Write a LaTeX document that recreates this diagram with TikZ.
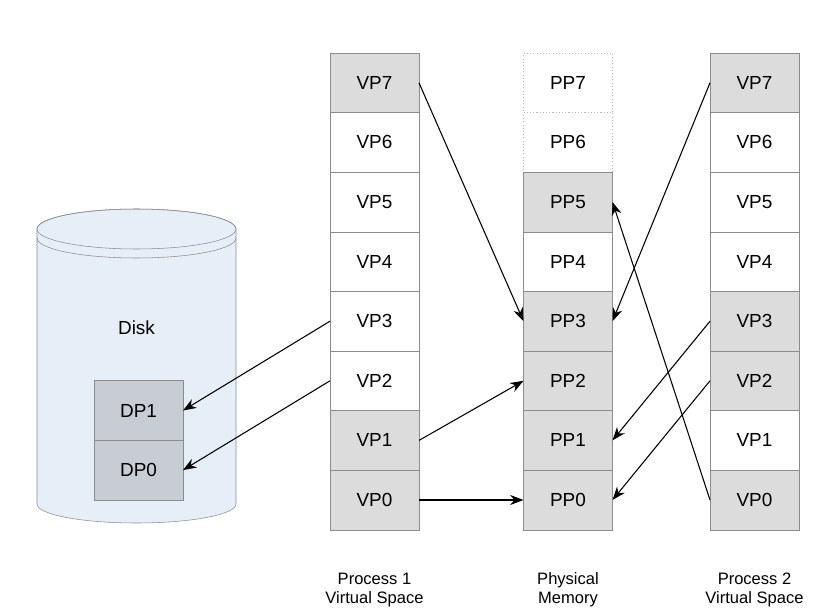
\documentclass[tikz,border=0pt]{standalone}
\usepackage{fontspec}
\setmainfont{Liberation Sans}
\usetikzlibrary{arrows.meta}
\definecolor{cellgray}{RGB}{220,220,220}
\definecolor{linegray}{RGB}{140,140,140}
\definecolor{diskblue}{RGB}{230,238,248}
\definecolor{dpgray}{RGB}{200,205,211}
\begin{document}
\begin{tikzpicture}[x=0.75pt, y=0.75pt, >={Stealth[length=10pt,width=7.5pt]}, node distance=44.7pt]
            \tikzset{page/.style = {shape=rectangle, draw=linegray, fill=white, minimum width=66.75pt, minimum height=44.7pt, inner sep=0pt, outer sep=0pt, font=\fontsize{14.2}{16}\selectfont}}
            \tikzset{used/.style = {page, fill=cellgray}}
            \tikzset{free/.style = {page, draw=linegray!60, dotted}}
            \tikzset{dpage/.style = {page, fill=dpgray}}
            \tikzset{caption/.style = {align=center, font=\fontsize{12.4}{14}\selectfont}}
            \tikzset{map/.style = {->, line width=0.8pt}}

            \useasboundingbox (0,0) rectangle (831,608);

            % disk
            \filldraw[draw=linegray, fill=diskblue] (37,379) -- (37,104) arc[start angle=180, end angle=360, x radius=99.5, y radius=19] -- (236,379) arc[start angle=0, end angle=180, x radius=99.5, y radius=20] -- cycle;
            \draw[linegray] (136.5,379) ellipse[x radius=99.5, y radius=20];
            \draw[linegray] (37,370) arc[start angle=180, end angle=360, x radius=99.5, y radius=20];
            \node (disk) at (136.5,280) {\fontsize{14.2}{16}\selectfont Disk};
            \node[dpage] (dp1) at (138.5,197.5) {DP1};
            \node[dpage, below of=dp1] (dp0) {DP0};

            % process 1
            \node[used] (avp7) at (374.5,525.2) {VP7};
            \node[page, below of=avp7] (avp6) {VP6};
            \node[page, below of=avp6] (avp5) {VP5};
            \node[page, below of=avp5] (avp4) {VP4};
            \node[page, below of=avp4] (avp3) {VP3};
            \node[page, below of=avp3] (avp2) {VP2};
            \node[used, below of=avp2] (avp1) {VP1};
            \node[used, below of=avp1] (avp0) {VP0};

            % physical memory
            \node[free] (pp7) at (568,525.2) {PP7};
            \node[free, below of=pp7] (pp6) {PP6};
            \node[used, below of=pp6] (pp5) {PP5};
            \node[page, below of=pp5] (pp4) {PP4};
            \node[used, below of=pp4] (pp3) {PP3};
            \node[used, below of=pp3] (pp2) {PP2};
            \node[used, below of=pp2] (pp1) {PP1};
            \node[used, below of=pp1] (pp0) {PP0};

            % process 2
            \node[used] (bvp7) at (754.5,525.2) {VP7};
            \node[page, below of=bvp7] (bvp6) {VP6};
            \node[page, below of=bvp6] (bvp5) {VP5};
            \node[page, below of=bvp5] (bvp4) {VP4};
            \node[used, below of=bvp4] (bvp3) {VP3};
            \node[used, below of=bvp3] (bvp2) {VP2};
            \node[page, below of=bvp2] (bvp1) {VP1};
            \node[used, below of=bvp1] (bvp0) {VP0};

            \node[caption] (cap1) at (374.5,18) {Process 1\\Virtual Space};
            \node[caption] (cap2) at (568,18) {Physical\\Memory};
            \node[caption] (cap3) at (754.5,18) {Process 2\\Virtual Space};

            \draw[map] (avp7.east) -- (pp3.west);
            \draw[map] (avp1.east) -- (pp2.west);
            \draw[map] (avp0.east) -- (pp0.west);
            \draw[map] (avp3.west) -- (dp1.east);
            \draw[map] (avp2.west) -- (dp0.east);

            \draw[map] (bvp7.west) -- (pp3.east);
            \draw[map] (bvp3.west) -- (pp1.east);
            \draw[map] (bvp2.west) -- (pp0.east);
            \draw[map] (bvp0.west) -- (pp5.east);
        \end{tikzpicture}
\end{document}
